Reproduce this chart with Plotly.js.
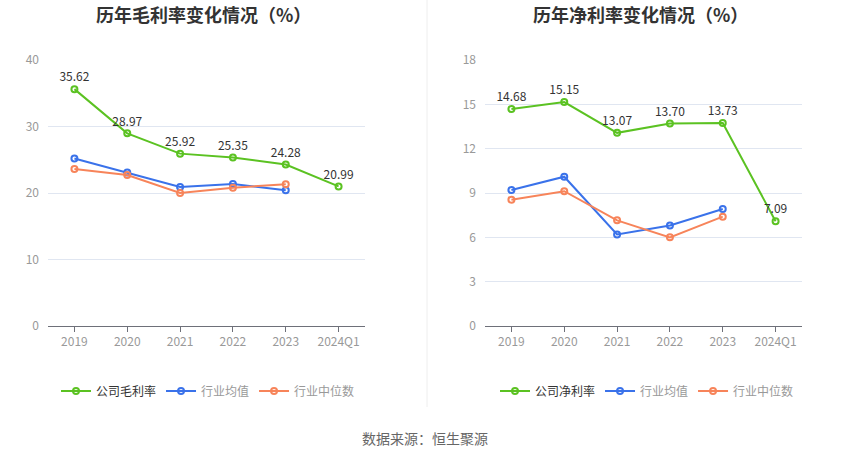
<!DOCTYPE html>
<html>
<head>
<meta charset="utf-8">
<script src="https://cdn.plot.ly/plotly-3.0.1.min.js"></script>
<style>html,body{margin:0;padding:0;background:#fff;}#chart{width:850px;height:459px;}</style>
</head>
<body>
<div id="chart"></div>
<script>
const categories = ['2019','2020','2021','2022','2023','2024Q1'];
const grossCompany = [35.62, 28.97, 25.92, 25.35, 24.28, 20.99];
const grossIndustryAvg = [25.2, 23.1, 20.9, 21.35, 20.4];
const grossIndustryMedian = [23.6, 22.7, 20.0, 20.8, 21.3];
const netCompany = [14.68, 15.15, 13.07, 13.70, 13.73, 7.09];
const netIndustryAvg = [9.2, 10.1, 6.2, 6.8, 7.92];
const netIndustryMedian = [8.55, 9.12, 7.15, 6.0, 7.4];
const leftTitle = '历年毛利率变化情况（%）';
const rightTitle = '历年净利率变化情况（%）';
const sourceText = '数据来源：恒生聚源';

const FONT = '"Noto Sans CJK SC", "Noto Sans", sans-serif';
const GREEN = '#5bc222', BLUE = '#3a72ea', ORANGE = '#f7845a';

function fmt(v){ return v.toFixed(2); }

function series(x, y, name, color, xa, ya, legend, withText, nameColor){
  const t = {
    x: x.slice(0, y.length), y: y, name: '<span style="color:' + nameColor + '">' + name + '</span>',
    type: 'scatter', mode: withText ? 'lines+markers+text' : 'lines+markers',
    line: {color: color, width: 2},
    marker: {symbol: 'circle-open', size: 6, color: color, line: {width: 2, color: color}},
    xaxis: xa, yaxis: ya, legend: legend, hoverinfo: 'x+y', cliponaxis: false
  };
  if (withText) {
    t.text = y.map(fmt);
    t.textposition = 'top center';
    t.textfont = {size: 12, color: '#333', family: FONT};
  }
  return t;
}

const data = [
  series(categories, grossCompany, '公司毛利率', GREEN, 'x', 'y', 'legend', true, '#333'),
  series(categories, grossIndustryAvg, '行业均值', BLUE, 'x', 'y', 'legend', false, '#999'),
  series(categories, grossIndustryMedian, '行业中位数', ORANGE, 'x', 'y', 'legend', false, '#999'),
  series(categories, netCompany, '公司净利率', GREEN, 'x2', 'y2', 'legend2', true, '#333'),
  series(categories, netIndustryAvg, '行业均值', BLUE, 'x2', 'y2', 'legend2', false, '#999'),
  series(categories, netIndustryMedian, '行业中位数', ORANGE, 'x2', 'y2', 'legend2', false, '#999')
];

const yDom = [1 - 326/459, 1 - 60/459];
function xaxis(dom, anchor){
  return {domain: dom, anchor: anchor, type: 'category', range: [-0.5, 5.5],
    showgrid: false, showline: true, linecolor: '#6e7079', linewidth: 1,
    ticks: 'outside', ticklen: 5, tickcolor: '#6e7079',
    tickfont: {size: 12, color: '#999', family: FONT}, automargin: false, zeroline: false, fixedrange: true};
}
function yaxis(dom, anchor, max, dt){
  return {domain: dom, anchor: anchor, range: [0, max], dtick: dt, tick0: 0,
    showgrid: true, gridcolor: '#e0e6f1', gridwidth: 1, showline: false, zeroline: false,
    ticks: '', ticklabelstandoff: 8,
    tickfont: {size: 12, color: '#999', family: FONT}, automargin: false, fixedrange: true};
}

const layout = {
  width: 850, height: 459,
  margin: {l: 0, r: 0, t: 0, b: 0},
  paper_bgcolor: '#fff', plot_bgcolor: '#fff',
  font: {family: FONT, color: '#333'},
  showlegend: true,
  xaxis: xaxis([48/850, 365/850], 'y'),
  yaxis: yaxis(yDom, 'x', 40, 10),
  xaxis2: xaxis([485/850, 802/850], 'y2'),
  yaxis2: yaxis(yDom, 'x2', 18, 3),
  legend: {orientation: 'h', x: 56/850, xanchor: 'left', y: 1 - 391/459, yanchor: 'middle',
    font: {size: 12, family: FONT, color: '#333'}, bgcolor: 'rgba(0,0,0,0)', itemclick: false, itemdoubleclick: false},
  legend2: {orientation: 'h', x: 495/850, xanchor: 'left', y: 1 - 391/459, yanchor: 'middle',
    font: {size: 12, family: FONT, color: '#333'}, bgcolor: 'rgba(0,0,0,0)', itemclick: false, itemdoubleclick: false},
  annotations: [
    {text: '<b>' + leftTitle + '</b>', xref: 'paper', yref: 'paper', x: 203/850, y: 1 - 14/459,
     xanchor: 'center', yanchor: 'middle', showarrow: false, font: {size: 18, color: '#333', family: FONT}},
    {text: '<b>' + rightTitle + '</b>', xref: 'paper', yref: 'paper', x: 640/850, y: 1 - 14/459,
     xanchor: 'center', yanchor: 'middle', showarrow: false, font: {size: 18, color: '#333', family: FONT}},
    {text: sourceText, xref: 'paper', yref: 'paper', x: 0.5, y: 1 - 438/459,
     xanchor: 'center', yanchor: 'middle', showarrow: false, font: {size: 14, color: '#666', family: FONT}}
  ],
  shapes: [
    {type: 'line', xref: 'paper', yref: 'paper', x0: 427/850, x1: 427/850, y0: 1, y1: 1 - 407/459,
     line: {color: '#eeeeee', width: 1}}
  ]
};

Plotly.newPlot('chart', data, layout, {displayModeBar: false, staticPlot: false});
</script>
</body>
</html>
